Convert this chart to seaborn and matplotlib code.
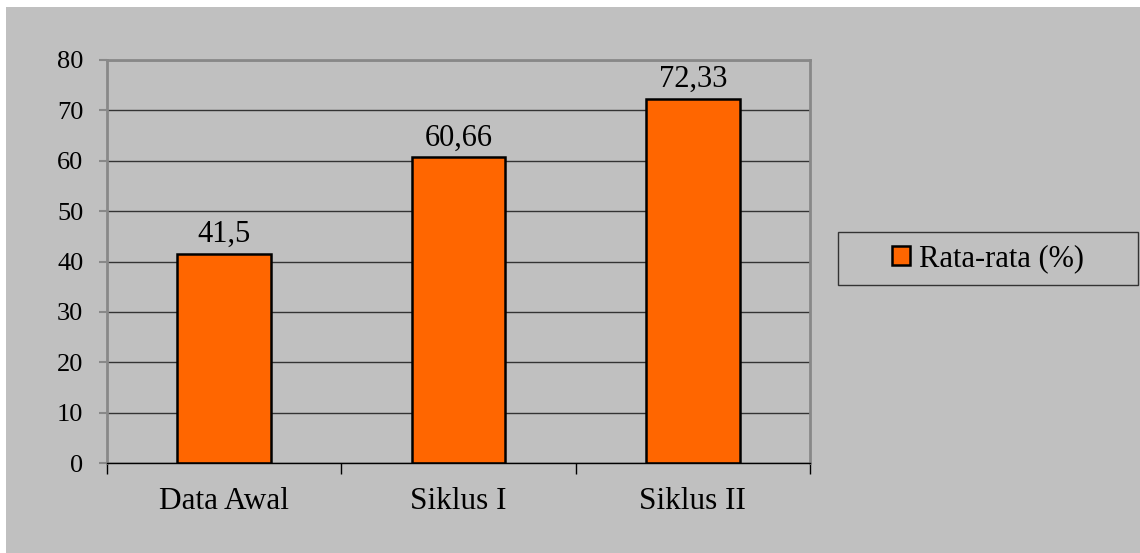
import matplotlib
matplotlib.use("Agg")
import matplotlib.pyplot as plt
import seaborn as sns
import pandas as pd
from matplotlib.patches import Rectangle

categories = ["Data Awal", "Siklus I", "Siklus II"]
values = [41.5, 60.66, 72.33]
value_labels = ["41,5", "60,66", "72,33"]
series_name = "Rata-rata (%)"
yticks = [0, 10, 20, 30, 40, 50, 60, 70, 80]

sns.set_theme(style="white")
plt.rcParams['font.family'] = ['Liberation Serif', 'DejaVu Serif']
plt.rcParams['text.color'] = 'black'
plt.rcParams['xtick.color'] = 'black'
plt.rcParams['ytick.color'] = 'black'
plt.rcParams['xtick.labelcolor'] = 'black'
plt.rcParams['ytick.labelcolor'] = 'black'

df = pd.DataFrame({"cat": categories, "val": values, "series": series_name})

fig = plt.figure(figsize=(11.4, 5.53), dpi=100)
fig.patch.set_facecolor("white")
bg = Rectangle((6/1140, 0), 1 - 6/1140, 1 - 7/553, transform=fig.transFigure,
               facecolor="#C0C0C0", edgecolor="none", zorder=-10)
fig.patches.append(bg)

ax = fig.add_axes([107/1140, (553-463)/553, (810-107)/1140, (463-60)/553])
ax.set_facecolor("#C0C0C0")

sns.barplot(data=df, x="cat", y="val", hue="series", ax=ax,
            palette=["#FF6600"], saturation=1, edgecolor="black", linewidth=1.8,
            width=0.4, dodge=False, legend=True)

ax.set_xlim(-0.5, 2.5)
ax.set_ylim(0, 80)
ax.set_yticks(yticks)
ax.set_yticklabels([str(t) for t in yticks], fontsize=19)
ax.set_xlabel("")
ax.set_ylabel("")
ax.set_xticks([0, 1, 2])
ax.set_xticklabels(categories, fontsize=22.5)
ax.tick_params(axis="x", length=0, pad=17)
ax.tick_params(axis="y", length=6, width=1.5, color="#888888", pad=11, left=True)
ax.set_xticks([-0.5, 0.5, 1.5, 2.5], minor=True)
ax.tick_params(axis="x", which="minor", length=8, width=1, color="black", bottom=True)

ax.grid(axis="y", color="#333333", linewidth=1)
ax.set_axisbelow(True)
for s in ["left", "right", "top"]:
    ax.spines[s].set_color("#888888")
    ax.spines[s].set_linewidth(2)
ax.spines["bottom"].set_color("black")
ax.spines["bottom"].set_linewidth(1)

for i, (v, lab) in enumerate(zip(values, value_labels)):
    ax.text(i, v + 1.0, lab, ha="center", va="bottom", fontsize=22, color="black")

# legend frame drawn separately
lx0, lx1, ly0, ly1 = 838/1140, 1138/1140, 1 - 285/553, 1 - 232/553
frame = Rectangle((lx0, ly0), lx1 - lx0, ly1 - ly0, transform=fig.transFigure,
                  facecolor="#C0C0C0", edgecolor="#333333", linewidth=1, zorder=-5)
fig.patches.append(frame)
leg = ax.legend(loc="center", bbox_to_anchor=((lx0 + lx1) / 2, (ly0 + ly1) / 2),
                bbox_transform=fig.transFigure, fontsize=22, frameon=False,
                handlelength=0.6, handleheight=0.6, handletextpad=0.3,
                borderpad=0.2)
for h in leg.legend_handles:
    h.set_linewidth(1.8)
    h.set_edgecolor("black")

fig.savefig("out.png", dpi=100, facecolor=fig.get_facecolor())
